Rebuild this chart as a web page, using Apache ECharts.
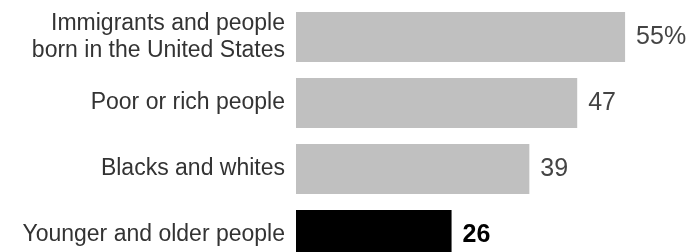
<!DOCTYPE html>
<html>
<head>
<meta charset="utf-8">
<script src="https://cdn.jsdelivr.net/npm/echarts@6/dist/echarts.min.js"></script>
<style>
  html, body { margin: 0; padding: 0; background: #fff; }
  #main { width: 693px; height: 252px; }
</style>
</head>
<body>
<div id="main"></div>
<script>
const categories = [
  'Immigrants and people\nborn in the United States',
  'Poor or rich people',
  'Blacks and whites',
  'Younger and older people'
]
const values = [55, 47, 39, 26]
const highlight = 3

const FONT = '"Liberation Sans", Arial, sans-serif'

var myChart = echarts.init(document.getElementById('main'))

var option = {
  animation: false,
  grid: {
    left: 296,
    top: 4,
    width: 359,
    height: 264,
    outerBoundsMode: 'none'
  },
  xAxis: {
    type: 'value',
    min: 0,
    max: 60,
    show: false
  },
  yAxis: {
    type: 'category',
    inverse: true,
    data: categories,
    axisLine: { show: false },
    axisTick: { show: false },
    axisLabel: {
      margin: 11,
      color: '#333',
      fontFamily: FONT,
      fontSize: 23,
      lineHeight: 27,
      align: 'right'
    }
  },
  series: [{
    type: 'bar',
    barWidth: 50,
    data: values.map((v, i) => ({
      value: v,
      itemStyle: { color: i === highlight ? '#000' : '#c0c0c0' },
      label: i === highlight ? { color: '#000', fontWeight: 'bold' } : {}
    })),
    label: {
      show: true,
      position: 'right',
      distance: 11,
      color: '#444',
      fontFamily: FONT,
      fontSize: 25,
      formatter: p => p.dataIndex === 0 ? p.value + '%' : String(p.value)
    }
  }]
}

myChart.setOption(option)
</script>
</body>
</html>
